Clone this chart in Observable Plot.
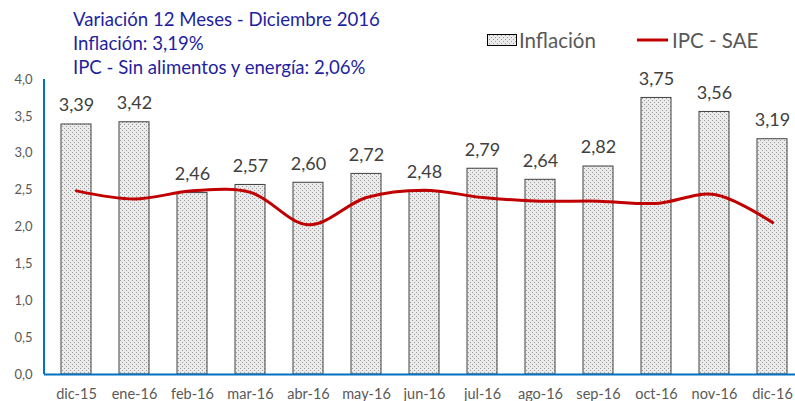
<!DOCTYPE html>
<html>
<head>
<meta charset="utf-8">
<script src="https://cdn.jsdelivr.net/npm/d3@7"></script>
<script src="https://cdn.jsdelivr.net/npm/@observablehq/plot@0.6"></script>
<style>
  html, body { margin: 0; padding: 0; background: #fff; }
  #wrap { position: relative; width: 795px; height: 401px; overflow: hidden; font-family: Lato, "Open Sans", sans-serif; }
  #title { position: absolute; left: 73px; top: 7px; color: #1f1fa0; font-size: 18.6px; line-height: 24px; white-space: nowrap; }
  #legend { position: absolute; left: 487px; top: 28px; color: #595959; font-size: 20.5px; white-space: nowrap; display: flex; align-items: center; }
  #legend svg { display: block; }
</style>
</head>
<body>
<div id="wrap">
  <div id="chart"></div>
  <div id="title">
    <div>Variación 12 Meses - Diciembre 2016</div>
    <div>Inflación: 3,19%</div>
    <div>IPC - Sin alimentos y energía: 2,06%</div>
  </div>
  <div id="legend">
    <svg width="30" height="14"><rect x="0.5" y="1.5" width="29" height="11" fill="url(#dotsL)" stroke="#000" stroke-width="1"/>
      <defs><pattern id="dotsL" width="4" height="4" patternUnits="userSpaceOnUse"><rect width="4" height="4" fill="#ebebeb"/><rect x="0" y="0" width="1" height="1" fill="#9a9a9a"/><rect x="2" y="2" width="1" height="1" fill="#9a9a9a"/></pattern></defs>
    </svg>
    <span style="margin-left:2px">Inflación</span>
    <svg width="33" height="14" style="margin-left:41px"><line x1="0" y1="7" x2="31" y2="7" stroke="#c00000" stroke-width="3"/></svg>
    <span style="margin-left:2px">IPC - SAE</span>
  </div>
</div>
<script>
const months = ["dic-15","ene-16","feb-16","mar-16","abr-16","may-16","jun-16","jul-16","ago-16","sep-16","oct-16","nov-16","dic-16"];
const inflacion = [3.39,3.42,2.46,2.57,2.60,2.72,2.48,2.79,2.64,2.82,3.75,3.56,3.19];
const ipcSae = [2.49,2.38,2.49,2.47,2.03,2.40,2.50,2.40,2.35,2.35,2.32,2.44,2.06];
const yTicks = [0,0.5,1,1.5,2,2.5,3,3.5,4];

const data = months.map((m, i) => ({month: m, inf: inflacion[i], sae: ipcSae[i]}));
const comma = (v, d) => v.toFixed(d).replace(".", ",");

const yAxisLine = (index, scales, values, dims) => {
  const g = document.createElementNS("http://www.w3.org/2000/svg", "line");
  g.setAttribute("x1", dims.marginLeft);
  g.setAttribute("x2", dims.marginLeft);
  g.setAttribute("y1", scales.y(4));
  g.setAttribute("y2", scales.y(0));
  g.setAttribute("stroke", "#0070c0");
  g.setAttribute("stroke-width", 2);
  return g;
};

const chart = Plot.plot({
  width: 795,
  height: 401,
  marginLeft: 44,
  marginRight: 0,
  marginTop: 79,
  marginBottom: 27,
  style: {fontFamily: "Lato, 'Open Sans', sans-serif", background: "transparent", overflow: "visible"},
  x: {domain: months, range: [44, 803], paddingInner: 0.49, paddingOuter: 0.245, label: null},
  y: {domain: [0, 4], label: null},
  marks: [
    Plot.barY(data, {x: "month", y: "inf", fill: "url(#dots)", stroke: "#404040", strokeWidth: 1}),
    Plot.ruleY([0], {stroke: "#0070c0", strokeWidth: 2}),
    yAxisLine,
    Plot.line(data, {x: "month", y: "sae", stroke: "#c00000", strokeWidth: 3, curve: "catmull-rom"}),
    Plot.text(data, {x: "month", y: "inf", text: d => comma(d.inf, 2), dy: -19, fontSize: 18, fill: "#404040"}),
    Plot.axisY(yTicks, {tickSize: 0, tickPadding: 12, tickFormat: d => comma(d, 1), fontSize: 13, fill: "#595959"}),
    Plot.axisX({tickSize: 0, tickPadding: 14, fontSize: 14.5, fill: "#595959"})
  ]
});

const defs = d3.select(chart).insert("defs", ":first-child");
defs.html('<pattern id="dots" width="4" height="4" patternUnits="userSpaceOnUse"><rect width="4" height="4" fill="#ebebeb"/><rect x="0" y="0" width="1" height="1" fill="#9a9a9a"/><rect x="2" y="2" width="1" height="1" fill="#9a9a9a"/></pattern>');

document.getElementById("chart").appendChild(chart);
</script>
</body>
</html>
